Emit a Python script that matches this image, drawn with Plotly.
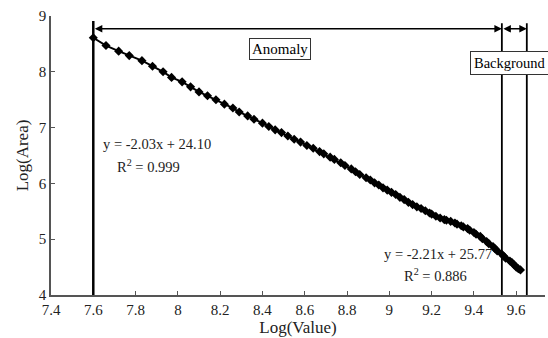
import plotly.graph_objects as go

# Log(Value) thresholds and the corresponding Log(Area)
log_value = [7.60, 7.66, 7.72, 7.77, 7.83, 7.88, 7.93, 7.97, 8.02, 8.06,
             8.10, 8.14, 8.18, 8.22, 8.26, 8.29, 8.33, 8.36, 8.40, 8.43,
             8.46, 8.49, 8.52, 8.55, 8.58, 8.61, 8.64, 8.67, 8.69, 8.72,
             8.74, 8.77, 8.79, 8.82, 8.84, 8.86, 8.89, 8.91, 8.93, 8.95,
             8.97, 8.99, 9.01, 9.03, 9.05, 9.07, 9.09, 9.11, 9.13, 9.15,
             9.17, 9.19, 9.20, 9.22, 9.24, 9.26, 9.27, 9.29, 9.31, 9.32,
             9.34, 9.35, 9.37, 9.38, 9.40, 9.41, 9.43, 9.44, 9.46, 9.47,
             9.49, 9.50, 9.51, 9.53, 9.54, 9.55, 9.57, 9.58, 9.59, 9.60,
             9.61, 9.62]
log_area = [8.61, 8.47, 8.37, 8.29, 8.20, 8.10, 8.00, 7.90, 7.82, 7.73,
            7.64, 7.57, 7.50, 7.42, 7.35, 7.28, 7.21, 7.15, 7.08, 7.02,
            6.96, 6.91, 6.85, 6.79, 6.74, 6.68, 6.63, 6.57, 6.53, 6.47,
            6.43, 6.37, 6.32, 6.26, 6.21, 6.16, 6.10, 6.06, 6.01, 5.97,
            5.92, 5.88, 5.84, 5.80, 5.75, 5.71, 5.66, 5.62, 5.58, 5.55,
            5.51, 5.47, 5.45, 5.41, 5.38, 5.35, 5.34, 5.32, 5.29, 5.27,
            5.24, 5.22, 5.19, 5.16, 5.12, 5.09, 5.05, 5.01, 4.96, 4.92,
            4.87, 4.83, 4.79, 4.74, 4.70, 4.66, 4.61, 4.58, 4.54, 4.50,
            4.47, 4.45]

x_ticks = [7.4, 7.6, 7.8, 8.0, 8.2, 8.4, 8.6, 8.8, 9.0, 9.2, 9.4, 9.6]
x_tick_text = ["7.4", "7.6", "7.8", "8", "8.2", "8.4", "8.6", "8.8", "9", "9.2", "9.4", "9.6"]
y_ticks = [4, 5, 6, 7, 8, 9]

# Threshold boundaries separating anomaly and background populations
anomaly_start = 7.6
anomaly_end = 9.532
background_end = 9.65

FONT = "Liberation Serif"

fig = go.Figure()
fig.add_trace(go.Scatter(
    x=log_value, y=log_area, mode="lines+markers",
    line=dict(color="black", width=2),
    marker=dict(symbol="diamond", size=7, color="black"),
    showlegend=False,
))

# Vertical boundary lines
fig.add_shape(type="line", x0=anomaly_start, x1=anomaly_start, y0=4.0, y1=8.91,
              line=dict(color="black", width=2.5))
for xb in (anomaly_end, background_end):
    fig.add_shape(type="line", x0=xb, x1=xb, y0=3.93, y1=8.87,
                  line=dict(color="black", width=1.8))

# Double-headed range arrows
arrow_y = 8.77
for x0, x1 in ((anomaly_start, anomaly_end), (anomaly_end, background_end)):
    fig.add_annotation(x=x1, y=arrow_y, ax=x0, ay=arrow_y, xref="x", yref="y",
                       axref="x", ayref="y", text="", showarrow=True,
                       arrowhead=2, startarrowhead=2, arrowside="end+start",
                       arrowsize=1, startarrowsize=1, arrowwidth=1.5,
                       arrowcolor="black", standoff=0, startstandoff=0)

box_font = dict(family=FONT, size=15, color="black")
fig.add_annotation(x=8.483, y=8.41, text="Anomaly", showarrow=False,
                   font=box_font, bgcolor="white", bordercolor="#333",
                   borderwidth=1, borderpad=2)
fig.add_annotation(x=9.572, y=8.158, text="Background", showarrow=False,
                   font=dict(family=FONT, size=14.5, color="black"),
                   bgcolor="white", bordercolor="#333",
                   borderwidth=1, borderpad=3)

eq_font = dict(family=FONT, size=14.5, color="#222")
fig.add_annotation(x=7.9, y=6.7, text="y = -2.03x + 24.10", showarrow=False, font=eq_font)
fig.add_annotation(x=7.86, y=6.32, text="R<sup>2</sup> = 0.999", showarrow=False, font=eq_font)
fig.add_annotation(x=9.23, y=4.73, text="y = -2.21x + 25.77", showarrow=False, font=eq_font)
fig.add_annotation(x=9.22, y=4.35, text="R<sup>2</sup> = 0.886", showarrow=False, font=eq_font)

axis_common = dict(
    showgrid=False, zeroline=False, showline=True, linecolor="#555", linewidth=1.5,
    ticks="inside", ticklen=4, tickcolor="#555", tickwidth=1.2,
    tickfont=dict(family=FONT, size=15, color="#222"),
)
fig.update_xaxes(range=[7.4, 9.736], tickvals=x_ticks, ticktext=x_tick_text,
                 title=dict(text="Log(Value)", font=dict(family=FONT, size=17, color="#222"),
                            standoff=4),
                 **axis_common)
fig.update_yaxes(range=[4, 9], tickvals=y_ticks,
                 title=dict(text="Log(Area)", font=dict(family=FONT, size=17, color="#222"),
                            standoff=6),
                 **axis_common)

fig.update_layout(
    width=548, height=338,
    margin=dict(l=51, r=3, t=16, b=43),
    plot_bgcolor="white", paper_bgcolor="white",
)

fig.write_html("out.html")
